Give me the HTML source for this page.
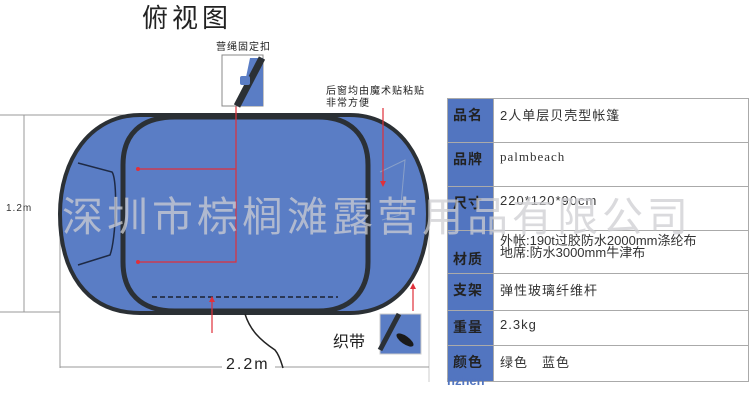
<!DOCTYPE html>
<html><head><meta charset="utf-8"><style>
body{margin:0;width:750px;height:402px;background:#fff;overflow:hidden;position:relative;font-family:"Liberation Sans","Noto Sans CJK SC",sans-serif}
svg{position:absolute;left:0;top:0}
.t{position:absolute;white-space:nowrap}
table{position:absolute;left:447px;top:98px;width:302px;border-collapse:collapse}
td{border:1.5px solid #aaa;padding:0 0 0 6px;font-size:13px;color:#333;vertical-align:top;padding-top:6px;letter-spacing:1px}
td.l{background:#5275c0;width:40px;color:#222;font-weight:bold;font-size:14px;padding-left:5px}
</style></head><body>
<svg width="750" height="402">
<line x1="0" y1="115" x2="145" y2="115" stroke="#999"/>
<line x1="0" y1="312" x2="60" y2="312" stroke="#999"/>
<line x1="24" y1="115" x2="24" y2="312" stroke="#999"/>
<line x1="60" y1="200" x2="60" y2="368" stroke="#999"/>
<line x1="429" y1="200" x2="429" y2="382" stroke="#ccc"/>
<line x1="60" y1="367" x2="222" y2="367" stroke="#999"/>
<line x1="275" y1="367" x2="429" y2="367" stroke="#999"/>
<path d="M140,115 L350,115 C400,115 428,160 428,214 C428,270 400,313 350,313 L140,313 C85,313 60,270 60,214 C60,160 90,115 140,115Z" fill="#5a7dc5" stroke="#2b3035" stroke-width="4"/>
<path d="M175,117 L318,117 C350,117 368,135 368,165 L368,262 C368,292 350,311 318,311 L175,311 C140,311 123,292 123,262 L123,165 C123,135 140,117 175,117Z" fill="none" stroke="#2b3035" stroke-width="5"/>
<path d="M78,163 L112,172 C118,180 116,240 110,255 L78,265" fill="none" stroke="#1e2a45" stroke-width="1.5"/>
<path d="M380,172 L405,160 L400,215 L382,220" fill="none" stroke="#8aa0c8" stroke-width="1"/>
<line x1="152" y1="297" x2="338" y2="297" stroke="#1a2030" stroke-width="1.5" stroke-dasharray="5,3"/>
<g stroke="#e0303a" stroke-width="1.2" fill="none">
<polyline points="236,105 236,262 138,262"/>
<line x1="236" y1="169" x2="138" y2="169"/>
<line x1="212" y1="333" x2="212" y2="300"/>
<line x1="383" y1="108" x2="383" y2="183"/>
<line x1="413" y1="311" x2="413" y2="287"/>
</g>
<g fill="#e0303a"><circle cx="138" cy="169" r="2"/><circle cx="138" cy="262" r="2"/><polygon points="209,302 215,302 212,296"/><polygon points="380,181 386,181 383,187"/><polygon points="410,289 416,289 413,283"/></g>
<rect x="222" y="55" width="41" height="51" fill="#fff" stroke="#888"/>
<polygon points="250,58 263,58 263,106 240,106" fill="#5a7dc5"/>
<line x1="262" y1="58" x2="237" y2="106" stroke="#2b3035" stroke-width="7"/>
<rect x="240" y="76" width="10" height="9" fill="#5a7dc5" rx="2"/>
<rect x="380" y="314" width="41" height="40" fill="#5a7dc5" stroke="#ccc"/>
<line x1="399" y1="314" x2="380" y2="350" stroke="#2b3035" stroke-width="5"/>
<ellipse cx="405" cy="340" rx="10" ry="4" transform="rotate(35 405 340)" fill="#1a1a1a"/>
<path d="M245,314 C250,330 260,340 275,350 C280,356 282,365 283,368" stroke="#222" fill="none" stroke-width="1.5"/>
</svg>
<div class="t" style="left:142px;top:-2px;font-size:26px;color:#222;letter-spacing:4px">俯视图</div>
<div class="t" style="left:216px;top:38px;font-size:10px;color:#222;letter-spacing:1px">营绳固定扣</div>
<div class="t" style="left:326px;top:86px;font-size:10px;color:#222;line-height:12px;letter-spacing:1px">后窗均由魔术贴粘贴<br>非常方便</div>
<div class="t" style="left:6px;top:203px;font-size:10px;color:#333;letter-spacing:1px">1.2m</div>
<div class="t" style="left:226px;top:356px;font-size:16px;color:#222;letter-spacing:2px">2.2m</div>
<div class="t" style="left:333px;top:328px;font-size:16px;color:#222">织带</div>
<table>
<tr style="height:44px"><td class="l">品名</td><td>2人单层贝壳型帐篷</td></tr>
<tr style="height:44px"><td class="l">品牌</td><td style="font-family:'Liberation Serif',serif;letter-spacing:1px">palmbeach</td></tr>
<tr style="height:44px"><td class="l">尺寸</td><td>220*120*90cm</td></tr>
<tr style="height:43px"><td class="l" style="vertical-align:bottom;padding-bottom:4px">材质</td><td style="line-height:12px;padding-top:4px;letter-spacing:0">外帐:190t过胶防水2000mm涤纶布<br>地席:防水3000mm牛津布</td></tr>
<tr style="height:37px"><td class="l">支架</td><td>弹性玻璃纤维杆</td></tr>
<tr style="height:35px"><td class="l">重量</td><td>2.3kg</td></tr>
<tr style="height:36px"><td class="l">颜色</td><td>绿色　蓝色</td></tr>
</table>
<div class="t" style="left:62px;top:183px;font-size:41px;color:rgba(205,205,210,0.75);letter-spacing:4px">深圳市棕榈滩露营用品有限公司</div>
<div class="t" style="left:447px;top:373px;font-size:13px;color:#5275c0;font-weight:bold">nzhen</div>
</body></html>
